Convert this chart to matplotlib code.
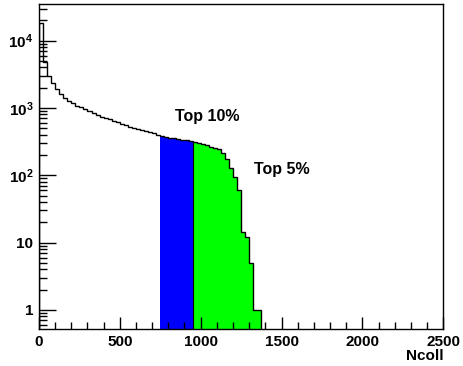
import numpy as np
import matplotlib
matplotlib.use("Agg")
import matplotlib.pyplot as plt
from matplotlib.ticker import FixedLocator, MultipleLocator, NullFormatter

plt.rcParams['font.family'] = ['Liberation Sans', 'DejaVu Sans']
plt.rcParams['font.weight'] = 'bold'
plt.rcParams['mathtext.fontset'] = 'custom'
plt.rcParams['mathtext.bf'] = 'Liberation Sans:bold'
plt.rcParams['mathtext.rm'] = 'Liberation Sans:bold'

# Ncoll histogram, 25-wide bins from 0 to 1375
bin_width = 25
counts_all = [18000, 4900, 2950, 2350, 1900, 1600, 1400, 1290, 1180, 1080,
              1020, 960, 900, 840, 780, 740, 700, 680, 630, 615,
              580, 565, 530, 510, 495, 465, 455, 435, 425, 390]
counts_top10 = [385, 372, 362, 352, 346, 340, 334, 328]
counts_top5 = [308, 300, 288, 280, 262, 256, 245, 215, 172, 128,
               95, 60, 14.5, 12.3, 4.9, 1.0, 1.0]

labels_top = ["Top 10%", "Top 5%"]
ytick_vals = [1, 10, 100, 1000, 10000]
ytick_text = ["1", "10", r"$\mathbf{10^{2}}$", r"$\mathbf{10^{3}}$", r"$\mathbf{10^{4}}$"]

fig = plt.figure(figsize=(4.63, 3.66), dpi=100)
ax = fig.add_axes([0.0842, 0.101, 0.873, 0.888])

counts = np.array(counts_all + counts_top10 + counts_top5, dtype=float)
edges = np.arange(len(counts) + 1) * bin_width

n1 = len(counts_all)
n2 = n1 + len(counts_top10)
base = 1e-3

ax.stairs(counts[n1:n2], edges[n1:n2 + 1], baseline=base, fill=True,
          facecolor='#0000ff', edgecolor='none')
ax.stairs(counts[n2:], edges[n2:], baseline=base, fill=True,
          facecolor='#00ff00', edgecolor='none')
ax.stairs(counts, edges, baseline=base, fill=False, color='black', lw=1.0)
ax.plot([edges[n2], edges[n2]], [base, counts[n2]], color='black', lw=0.8)

ax.set_yscale('log')
ax.set_xlim(0, 2500)
ax.set_ylim(0.52, 3.5e4)

ax.text(1040, 740, labels_top[0], fontsize=11.5, fontweight='bold', ha='center', va='center')
ax.text(1500, 120, labels_top[1], fontsize=11.5, fontweight='bold', ha='center', va='center')

ax.xaxis.set_major_locator(MultipleLocator(500))
ax.xaxis.set_minor_locator(MultipleLocator(100))
ax.yaxis.set_major_locator(FixedLocator(ytick_vals))
ax.set_yticklabels(ytick_text)
ax.yaxis.set_minor_locator(FixedLocator(
    [m * 10 ** e for e in range(-1, 5) for m in range(2, 10)]))
ax.yaxis.set_minor_formatter(NullFormatter())

ax.tick_params(which='both', direction='in', top=False, right=False,
               labelsize=11, width=1.0)
ax.tick_params(axis='x', which='major', length=9, pad=4)
ax.tick_params(axis='x', which='minor', length=5)
ax.tick_params(axis='y', which='major', length=12, pad=4)
ax.tick_params(axis='y', which='minor', length=6)
for lab in ax.get_xticklabels() + ax.get_yticklabels():
    lab.set_fontweight('bold')

ax.set_xlabel('Ncoll', loc='right', fontsize=11, fontweight='bold', labelpad=0)
for s in ax.spines.values():
    s.set_linewidth(1.0)

fig.savefig('out.png', dpi=100)
